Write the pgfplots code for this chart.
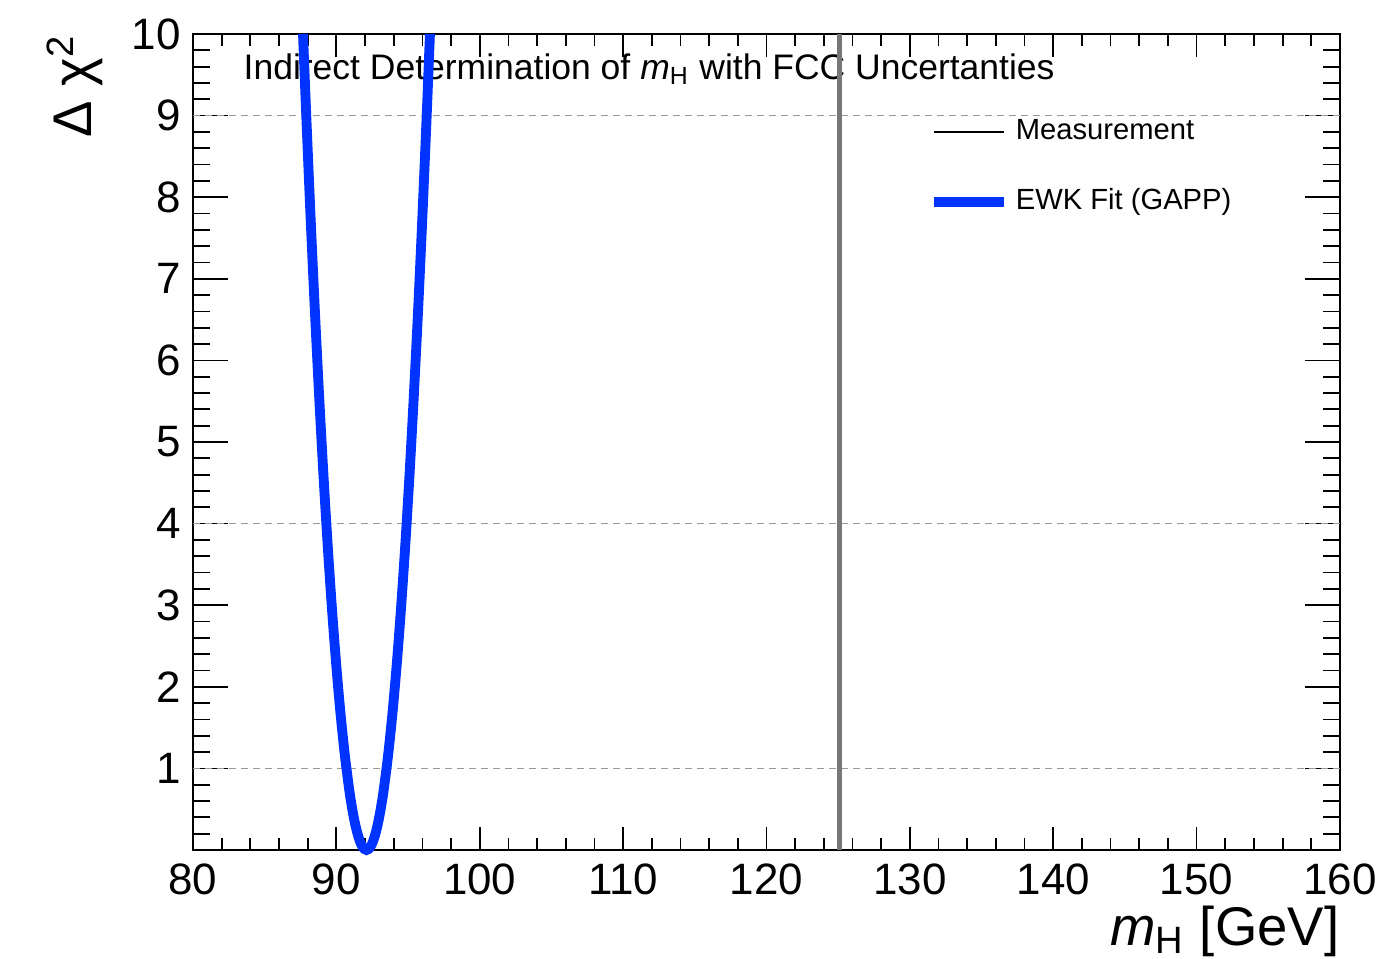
\documentclass[border=0pt]{standalone}
\usepackage{fontspec}
\setmainfont{Liberation Sans}
\usepackage{pgfplots}
\pgfplotsset{compat=1.18}
\definecolor{fitblue}{HTML}{0033FF}
\definecolor{measgray}{HTML}{777777}
\definecolor{gridgray}{HTML}{999999}

\begin{document}
\begin{tikzpicture}
\useasboundingbox (-1.93cm,-1.08cm) rectangle (11.84cm,8.50cm);
\begin{axis}[
    scale only axis,
    width=11.47cm, height=8.16cm,
    xmin=80, xmax=160, ymin=0, ymax=10,
    xtick={80,90,...,160},
    ytick={0,1,...,10},
    yticklabels={,1,2,3,4,5,6,7,8,9,10},
    minor x tick num=4,
    minor y tick num=4,
    tick align=inside,
    xtick style={black, line width=0.5pt, /pgfplots/major tick length=0.23cm, /pgfplots/minor tick length=0.12cm},
    ytick style={black, line width=0.5pt, /pgfplots/major tick length=0.35cm, /pgfplots/minor tick length=0.17cm},
    axis line style={black, line width=0.6pt},
    /pgf/number format/assume math mode=true,
    tick label style={font=\fontsize{12.5}{14}\selectfont},
    xticklabel style={yshift=-0.01cm},
    clip=false,
    xlabel={\textit{m}\textsubscript{H} [GeV]},
    xlabel style={font=\fontsize{15.5}{17}\selectfont, at={(rel axis cs:1,0)}, anchor=north east, yshift=-0.55cm, inner sep=0pt},
    legend style={draw=none, fill=none, at={(rel axis cs:0.641,0.905)}, anchor=north west,
        font=\fontsize{8.3}{10}\selectfont, row sep=0.3cm, inner sep=0pt},
    legend cell align=left,
    legend image code/.code={\draw[#1] (0cm,0cm) -- (0.7cm,0cm);},
]
% reference lines at 1, 4, 9
\addplot[gridgray, dash pattern=on 0.07cm off 0.05cm, line width=0.5pt, forget plot] coordinates {(80,1) (160,1)};
\addplot[gridgray, dash pattern=on 0.07cm off 0.05cm, line width=0.5pt, forget plot] coordinates {(80,4) (160,4)};
\addplot[gridgray, dash pattern=on 0.07cm off 0.05cm, line width=0.5pt, forget plot] coordinates {(80,9) (160,9)};

\node[anchor=west, font=\fontsize{10.1}{12}\selectfont, inner sep=0pt] at (rel axis cs:0.0436,0.957)
    {Indirect Determination of \textit{m}\textsubscript{H} with FCC Uncertanties};

\addlegendimage{black, line width=0.4pt}
\addlegendentry{Measurement}

% EWK fit Delta chi^2 scan
\addplot[fitblue, line width=2.8pt, smooth] coordinates {
    (87.673,10.0) (87.9,9.0) (88.2,7.760) (88.5,6.612) (88.8,5.556) (89.1,4.592)
    (89.4,3.719) (89.7,2.939) (90.0,2.25) (90.3,1.653) (90.6,1.148) (90.9,0.735)
    (91.05,0.5625) (91.2,0.413) (91.35,0.287) (91.5,0.184) (91.65,0.103) (91.8,0.046) (91.95,0.0115)
    (92.1,0)
    (92.25,0.0115) (92.4,0.046) (92.55,0.103) (92.7,0.184) (92.85,0.287) (93.0,0.413)
    (93.15,0.5625) (93.3,0.735) (93.6,1.148) (93.9,1.653) (94.2,2.25) (94.5,2.939)
    (94.8,3.719) (95.1,4.592) (95.4,5.556) (95.7,6.612) (96.0,7.760) (96.3,9.0) (96.527,10.0)
};
\addlegendentry{EWK Fit (GAPP)}

% measured value
\addplot[measgray, line width=1.2pt, forget plot] coordinates {(125.1,0) (125.1,10)};

\node[rotate=90, anchor=east, font=\fontsize{15.5}{17}\selectfont, inner sep=0pt]
    at ([xshift=-1.18cm]rel axis cs:0,1) {Δ χ\textsuperscript{2}};
\end{axis}
\end{tikzpicture}
\end{document}
